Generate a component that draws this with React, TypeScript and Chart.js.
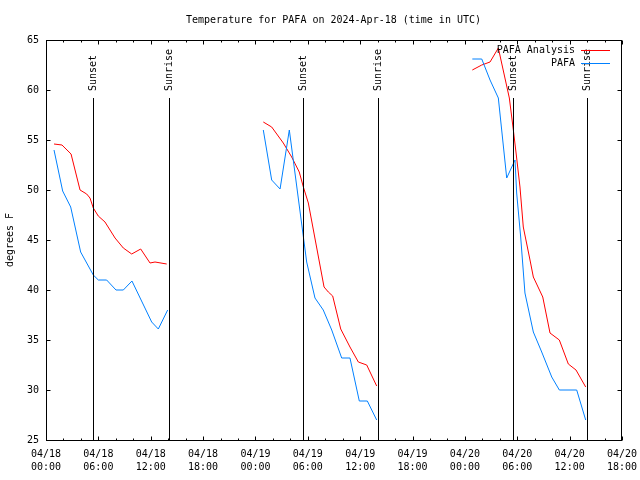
import React, { useEffect, useRef } from 'react';
import { Chart, registerables } from 'chart.js';

Chart.register(...registerables);

// ---------- text ----------
const chartTitle = 'Temperature for PAFA on 2024-Apr-18 (time in UTC)';
const yAxisTitle = 'degrees F';
const seriesNames = ['PAFA Analysis', 'PAFA'];
const sunsetLabel = 'Sunset';
const sunriseLabel = 'Sunrise';

// ---------- x tick labels (every 6 h from 2024-04-18 00:00 UTC) ----------
const xTickDates = ['04/18', '04/18', '04/18', '04/18', '04/19', '04/19', '04/19', '04/19', '04/20', '04/20', '04/20', '04/20'];
const xTickTimes = ['00:00', '06:00', '12:00', '18:00', '00:00', '06:00', '12:00', '18:00', '00:00', '06:00', '12:00', '18:00'];

// ---------- data: hours since 2024-04-18 00:00 UTC, temperature in deg F ----------
const analysisHours1 = [0.92, 1.83, 2.87, 3.9, 4.66, 5.04, 5.42, 5.99, 6.76, 7.91, 8.86, 9.82, 10.85, 11.92, 12.49, 13.83];
const analysisTemps1 = [54.6, 54.5, 53.6, 50.0, 49.6, 49.2, 48.2, 47.4, 46.8, 45.2, 44.2, 43.6, 44.1, 42.7, 42.8, 42.6];
const analysisHours2 = [24.9, 25.86, 27.19, 28.15, 29.02, 29.49, 30.06, 31.86, 32.35, 32.85, 33.77, 34.83, 35.79, 36.75, 37.89];
const analysisTemps2 = [56.8, 56.3, 54.7, 53.3, 51.8, 50.3, 48.7, 40.3, 39.8, 39.4, 36.1, 34.3, 32.8, 32.5, 30.4];
const analysisHours3 = [48.85, 49.93, 50.88, 51.83, 53.09, 53.55, 53.93, 54.31, 54.69, 55.46, 55.84, 56.92, 57.75, 58.82, 59.85, 60.73, 61.84];
const analysisTemps3 = [62.0, 62.5, 62.8, 64.2, 59.2, 56.0, 53.2, 50.3, 46.3, 43.0, 41.3, 39.3, 35.7, 35.0, 32.6, 32.0, 30.3];

const obsHours1 = [0.92, 1.91, 2.83, 3.97, 5.42, 6.0, 6.95, 8.02, 8.86, 9.85, 12.11, 12.87, 13.94];
const obsTemps1 = [54.0, 49.9, 48.3, 43.8, 41.5, 41.0, 41.0, 40.0, 40.0, 40.9, 36.8, 36.1, 38.0];
const obsHours2 = [24.9, 25.86, 26.82, 27.88, 29.87, 30.82, 31.77, 32.74, 33.88, 34.83, 35.9, 36.82, 37.89];
const obsTemps2 = [56.0, 51.0, 50.1, 56.0, 42.8, 39.2, 38.0, 36.0, 33.2, 33.2, 28.9, 28.9, 27.0];
const obsHours3 = [48.85, 49.93, 50.88, 51.83, 52.79, 53.74, 53.93, 54.39, 54.88, 55.84, 56.8, 57.95, 58.82, 60.81, 61.84];
const obsTemps3 = [63.1, 63.1, 61.0, 59.2, 51.2, 53.0, 49.7, 45.3, 39.7, 35.8, 33.8, 31.3, 30.0, 30.0, 27.0];

const sunsetHours = [5.42, 29.49, 53.55];
const sunriseHours = [14.13, 38.07, 61.99];

// ---------- axis ranges ----------
const xMin = 0;
const xMax = 66;
const xMajorStep = 6;
const xMinorStep = 2;
const yMin = 25;
const yMax = 65;
const yStep = 5;

// ---------- styles ----------
const FONT = 'DejaVu Sans Mono';
const analysisColor = '#ff0000';
const obsColor = '#0080ff';

type Pt = { x: number; y: number | null };

function buildSeries(segments: [number[], number[]][]): Pt[] {
  const out: Pt[] = [];
  segments.forEach(([hs, ts], si) => {
    hs.forEach((h, i) => out.push({ x: h, y: ts[i] }));
    if (si < segments.length - 1) out.push({ x: hs[hs.length - 1] + 0.5, y: null });
  });
  return out;
}

const framePlugin = {
  id: 'gnuplotFrame',
  afterDatasetsDraw(chart: any) {
    const { ctx, chartArea } = chart;
    const { left, right, top, bottom } = chartArea;
    const xs = chart.scales.x;
    const ys = chart.scales.y;
    ctx.save();
    ctx.fillStyle = '#000';
    ctx.strokeStyle = '#000';
    ctx.lineWidth = 1;
    ctx.font = `10px "${FONT}"`;

    // sunset / sunrise markers
    const events: [number, string][] = [];
    sunsetHours.forEach((h) => events.push([h, sunsetLabel]));
    sunriseHours.forEach((h) => events.push([h, sunriseLabel]));
    events.forEach(([h, label]) => {
      const px = Math.round(xs.getPixelForValue(h)) + 0.5;
      ctx.beginPath();
      ctx.moveTo(px, top + 58);
      ctx.lineTo(px, bottom);
      ctx.stroke();
      ctx.save();
      ctx.translate(px, top + 51);
      ctx.rotate(-Math.PI / 2);
      ctx.textAlign = 'left';
      ctx.textBaseline = 'middle';
      ctx.fillText(label, 0, 0);
      ctx.restore();
    });

    // border
    ctx.strokeRect(left + 0.5, top + 0.5, right - left - 1, bottom - top);

    // x ticks (bottom + mirrored top)
    for (let v = xMin; v <= xMax; v += xMinorStep) {
      const px = Math.round(xs.getPixelForValue(v)) + 0.5;
      const len = v % xMajorStep === 0 ? 4 : 2;
      ctx.beginPath();
      ctx.moveTo(px, bottom + 0.5);
      ctx.lineTo(px, bottom + 0.5 - len);
      ctx.moveTo(px, top + 0.5);
      ctx.lineTo(px, top + 0.5 + len);
      ctx.stroke();
    }
    // y ticks (left + mirrored right)
    for (let v = yMin; v <= yMax; v += yStep) {
      const py = Math.round(ys.getPixelForValue(v)) + 0.5;
      ctx.beginPath();
      ctx.moveTo(left + 0.5, py);
      ctx.lineTo(left + 4.5, py);
      ctx.moveTo(right - 0.5, py);
      ctx.lineTo(right - 4.5, py);
      ctx.stroke();
    }

    // title
    ctx.textAlign = 'center';
    ctx.textBaseline = 'middle';
    ctx.fillText(chartTitle, 333.5, 20);

    // y axis title
    ctx.save();
    ctx.translate(10, (top + bottom) / 2);
    ctx.rotate(-Math.PI / 2);
    ctx.textAlign = 'center';
    ctx.textBaseline = 'middle';
    ctx.fillText(yAxisTitle, 0, 0);
    ctx.restore();

    // legend (gnuplot style: text, then line sample)
    const colors = [analysisColor, obsColor];
    seriesNames.forEach((name, i) => {
      const ly = top + 10 + i * 13.3;
      ctx.fillStyle = '#000';
      ctx.textAlign = 'right';
      ctx.textBaseline = 'middle';
      ctx.fillText(name, right - 47, ly);
      ctx.strokeStyle = colors[i];
      ctx.beginPath();
      ctx.moveTo(right - 41, Math.round(ly) + 0.5);
      ctx.lineTo(right - 12, Math.round(ly) + 0.5);
      ctx.stroke();
    });
    ctx.restore();
  },
};

export default function App() {
  const ref = useRef<HTMLCanvasElement>(null);
  useEffect(() => {
    const canvas = ref.current;
    if (!canvas) return;
    const chart = new Chart(canvas, {
      type: 'line',
      data: {
        datasets: [
          {
            label: seriesNames[0],
            data: buildSeries([
              [analysisHours1, analysisTemps1],
              [analysisHours2, analysisTemps2],
              [analysisHours3, analysisTemps3],
            ]),
            borderColor: analysisColor,
            backgroundColor: analysisColor,
            borderWidth: 1,
            pointRadius: 0,
            tension: 0,
            spanGaps: false,
            order: 1,
          },
          {
            label: seriesNames[1],
            data: buildSeries([
              [obsHours1, obsTemps1],
              [obsHours2, obsTemps2],
              [obsHours3, obsTemps3],
            ]),
            borderColor: obsColor,
            backgroundColor: obsColor,
            borderWidth: 1,
            pointRadius: 0,
            tension: 0,
            spanGaps: false,
            order: 0,
          },
        ],
      } as any,
      options: {
        responsive: false,
        animation: false,
        layout: { padding: { top: 40, right: 18, left: 0, bottom: 0 } },
        plugins: {
          legend: { display: false },
          title: { display: false },
          tooltip: { enabled: false },
        },
        scales: {
          x: {
            type: 'linear',
            min: xMin,
            max: xMax,
            grid: { display: false, drawTicks: false },
            border: { display: false },
            ticks: {
              stepSize: xMajorStep,
              autoSkip: false,
              maxRotation: 0,
              minRotation: 0,
              padding: 8,
              color: '#000',
              font: { family: FONT, size: 10, lineHeight: 1.3 },
              callback: (_v: any, i: number) => [xTickDates[i], xTickTimes[i]],
            },
            afterFit: (s: any) => {
              s.height = 40;
              s.paddingLeft = 0;
              s.paddingRight = 0;
            },
          },
          y: {
            type: 'linear',
            min: yMin,
            max: yMax,
            grid: { display: false, drawTicks: false },
            border: { display: false },
            ticks: {
              stepSize: yStep,
              padding: 7,
              color: '#000',
              font: { family: FONT, size: 10 },
            },
            afterFit: (s: any) => {
              s.width = 46;
              s.paddingTop = 0;
              s.paddingBottom = 0;
            },
          },
        },
      } as any,
      plugins: [framePlugin],
    });
    return () => chart.destroy();
  }, []);

  return (
    <div style={{ position: 'fixed', left: 0, top: 0, width: 640, height: 480, background: '#fff' }}>
      <canvas ref={ref} width={640} height={480} style={{ display: 'block', width: 640, height: 480 }} />
    </div>
  );
}
